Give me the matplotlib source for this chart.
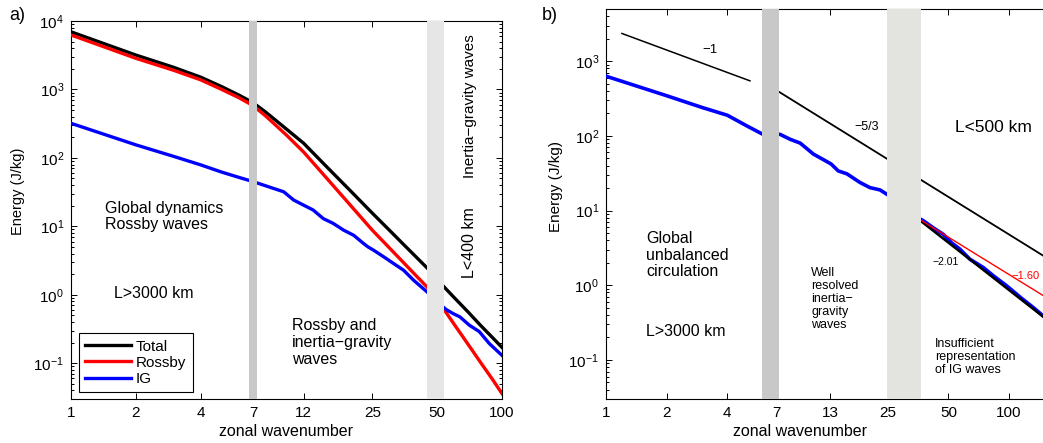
import matplotlib
matplotlib.use("Agg")
import matplotlib.pyplot as plt
from matplotlib.ticker import NullLocator, LogLocator, FixedLocator, FixedFormatter

plt.rcParams['font.family'] = ['Liberation Sans', 'DejaVu Sans']
plt.rcParams['mathtext.fontset'] = 'custom'
plt.rcParams['mathtext.rm'] = 'Liberation Sans'
plt.rcParams['mathtext.it'] = 'Liberation Sans:italic'
plt.rcParams['axes.unicode_minus'] = True

# ---------------- data: panel a ----------------
k_a = [1, 2, 3, 4, 5, 6, 7, 8, 10, 12, 15, 20, 25, 30, 35, 40, 45, 54, 60, 70, 80, 90, 100]
total_a = [6950, 3180, 2100, 1510, 1100, 830, 640, 467, 263, 164, 80, 32, 15.6, 8.8, 5.4,
           3.55, 2.45, 1.29, 0.91, 0.55, 0.35, 0.24, 0.17]
rossby_a = [6250, 2850, 1900, 1380, 1000, 760, 580, 410, 215, 122, 55, 19.6, 8.8, 4.85,
            2.93, 1.89, 1.29, 0.60, 0.37, 0.184, 0.10, 0.059, 0.036]
k_ig_a = [1, 2, 3, 4, 5, 6, 7, 8.7, 9.7, 10.8, 12, 13.3, 14.8, 16.5, 18.4, 20.5, 22.8,
          23.9, 25.3, 28.2, 31.4, 34.9, 38.9, 44.9, 54.3, 55.5, 59.4, 63.8, 70.5, 78.4,
          87.3, 100]
ig_a = [320, 155, 105, 79, 62, 52, 45, 35.8, 32, 24.2, 20.4, 17.3, 13, 11, 8.8, 7.4, 5.6,
        5.0, 4.5, 3.6, 2.86, 2.29, 1.63, 1.10, 0.63, 0.60, 0.53, 0.475, 0.36, 0.29,
        0.194, 0.13]
xticks_a = [1, 2, 4, 7, 12, 25, 50, 100]
bands_a = [(6.7, 7.3, '#c8c8c8'), (45, 54, '#e6e6e6')]

# ---------------- data: panel b ----------------
k_ig_b1 = [1, 2, 3, 4, 5, 6, 7.3, 8.2, 9.2, 10.7, 12, 13.1, 14.2, 15.7, 18.2, 20.4, 22.9, 24.7]
ig_b1 = [630, 345, 240, 189, 136, 105, 105, 90, 80, 57, 48, 42, 34, 31, 23.8, 20.3, 18.9, 16.6]
k_ig_b2 = [36.6, 37.6, 42, 47.2, 51.9, 57, 64, 74.5, 83.6, 97.5, 113.8, 132.4, 147.5]
ig_b2 = [7.6, 7.3, 5.9, 4.8, 3.7, 3.05, 2.23, 1.73, 1.34, 0.98, 0.69, 0.50, 0.39]
xticks_b = [1, 2, 4, 7, 13, 25, 50, 100]
bands_b = [(5.95, 7.2, '#c8c8c8'), (24.8, 36.6, '#e3e3df')]
ref_m1_k, ref_m1_e = [1.2, 5.18], [2350, 546]
ref_m53_k, ref_m53_e = [7.1, 200], [400, 1.5]
fit_ig_k, fit_ig_e = [36.6, 200], [7.2, 0.2]
fit_red_k, fit_red_e = [36.6, 200], [7.4, 0.44]

W, H = 1043, 443
fig = plt.figure(figsize=(W / 100, H / 100), dpi=100)

def fx(px):
    return px / W

def fy(py):
    return 1 - py / H

def style_axes(ax, xticks, xlim, ylim):
    ax.set_xscale('log')
    ax.set_yscale('log')
    ax.set_xlim(*xlim)
    ax.set_ylim(*ylim)
    ax.xaxis.set_major_locator(FixedLocator(xticks))
    ax.xaxis.set_major_formatter(FixedFormatter([str(t) for t in xticks]))
    ax.xaxis.set_minor_locator(NullLocator())
    ax.yaxis.set_major_locator(LogLocator(base=10, numticks=20))
    ax.yaxis.set_minor_locator(LogLocator(base=10, subs=range(2, 10), numticks=20))
    ax.tick_params(which='both', direction='in', top=True, right=True, labelsize=11,
                   width=0.7)
    ax.tick_params(which='major', length=4, pad=5)
    ax.tick_params(which='minor', length=2)
    for s in ax.spines.values():
        s.set_linewidth(0.8)

# ---------------- panel a ----------------
ax1 = fig.add_axes([fx(71), 44 / H, 431 / W, 378 / H])
style_axes(ax1, xticks_a, (1, 100), (0.03, 1e4))
l1, = ax1.plot(k_a, total_a, color='black', lw=2.4, zorder=3, label='Total')
l2, = ax1.plot(k_a, rossby_a, color='#ff0000', lw=2.4, zorder=3.1, label='Rossby')
l3, = ax1.plot(k_ig_a, ig_a, color='#0000ff', lw=2.4, zorder=3.2, label='IG')
for a, b, c in bands_a:
    ax1.axvspan(a, b, color=c, lw=0, zorder=5)
leg = ax1.legend(handles=[l1, l2, l3], loc='lower left', bbox_to_anchor=(0.018, 0.018),
                 fontsize=11, handlelength=3.0, handletextpad=0.35, borderpad=0.4,
                 labelspacing=0.15, fancybox=False, framealpha=1, edgecolor='black',
                 borderaxespad=0)
leg.get_frame().set_linewidth(0.8)
leg.set_zorder(6)

# ---------------- panel b ----------------
ax2 = fig.add_axes([fx(606), 44 / H, (1069.7 - 606) / W, 390 / H])
style_axes(ax2, xticks_b, (1, 200), (0.03, 5000))
ax2.plot(k_ig_b1, ig_b1, color='#0000ff', lw=2.6, zorder=3)
ax2.plot(k_ig_b2, ig_b2, color='#0000ff', lw=2.6, zorder=3)
ax2.plot(ref_m1_k, ref_m1_e, color='black', lw=1.1, zorder=3)
ax2.plot(ref_m53_k, ref_m53_e, color='black', lw=1.3, zorder=3)
ax2.plot(fit_ig_k, fit_ig_e, color='black', lw=1.8, zorder=3.5)
ax2.plot(fit_red_k, fit_red_e, color='#ff0000', lw=1.0, zorder=3.5)
for a, b, c in bands_b:
    ax2.axvspan(a, b, color=c, lw=0, zorder=5)
ax2.spines['right'].set_visible(False)

# ---------------- text ----------------
fig.text(fx(17), fy(16), 'a)', fontsize=13, ha='center', va='center')
fig.text(fx(550), fy(16), 'b)', fontsize=13, ha='center', va='center')
fig.text(fx(18), fy(191), 'Energy (J/kg)', fontsize=10.5, rotation=90, ha='center', va='center')
fig.text(fx(556), fy(186), 'Energy (J/kg)', fontsize=11, rotation=90, ha='center', va='center')
fig.text(fx(286), fy(432), 'zonal wavenumber', fontsize=11.5, ha='center', va='center')
fig.text(fx(800), fy(432), 'zonal wavenumber', fontsize=11.5, ha='center', va='center')

fig.text(fx(105), fy(216.5), 'Global dynamics\nRossby waves', fontsize=11.5, ha='left',
         va='center', linespacing=1.15)
fig.text(fx(114), fy(294), 'L>3000 km', fontsize=11.5, ha='left', va='center')
fig.text(fx(292), fy(342.5), 'Rossby and\ninertia\u2212gravity\nwaves', fontsize=11.5,
         ha='left', va='center', linespacing=1.15)
fig.text(fx(470), fy(106), 'Inertia\u2212gravity waves', fontsize=11, rotation=90,
         ha='center', va='center')
fig.text(fx(470), fy(243), 'L<400 km', fontsize=11.5, rotation=90, ha='center', va='center')

fig.text(fx(710), fy(50), '\u22121', fontsize=9.5, ha='center', va='center')
fig.text(fx(867), fy(127), '\u22125/3', fontsize=9, ha='center', va='center')
fig.text(fx(993), fy(128), 'L<500 km', fontsize=12.5, ha='center', va='center')
fig.text(fx(946), fy(262), '\u22122.01', fontsize=7.5, ha='center', va='center')
fig.text(fx(1040), fy(276), '\u22121.60', fontsize=8, ha='right', va='center', color='#ff0000')
fig.text(fx(811), fy(299), 'Well\nresolved\ninertia\u2212\ngravity\nwaves', fontsize=9,
         ha='left', va='center', linespacing=1.1)
fig.text(fx(935), fy(357), 'Insufficient\nrepresentation\nof IG waves', fontsize=9,
         ha='left', va='center', linespacing=1.1)
fig.text(fx(646), fy(255), 'Global\nunbalanced\ncirculation', fontsize=11.5, ha='left',
         va='center', linespacing=1.15)
fig.text(fx(646), fy(331), 'L>3000 km', fontsize=11.5, ha='left', va='center')

fig.savefig('out.png', dpi=100)
